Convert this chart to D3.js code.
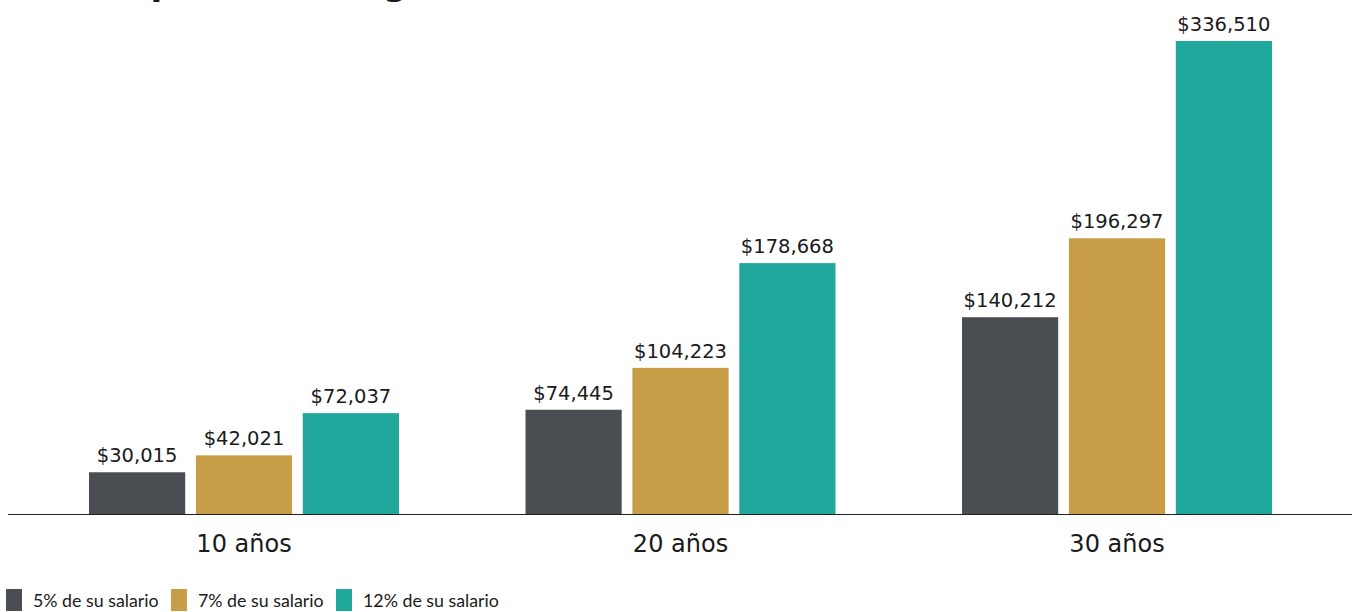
<!DOCTYPE html>
<html>
<head>
<meta charset="utf-8">
<script src="https://cdn.jsdelivr.net/npm/d3@7"></script>
<style>
  body { margin: 0; background: #fff; }
  svg text { font-family: "DejaVu Sans", sans-serif; fill: #1a1a1a; }
</style>
</head>
<body>
<div id="chart"></div>
<script>
// data
var categories = ["10 años", "20 años", "30 años"];
var seriesNames = ["5% de su salario", "7% de su salario", "12% de su salario"];
var seriesColors = ["#4a4e52", "#c89d48", "#21a89d"];
var values5 = [30015, 74445, 140212];
var values7 = [42021, 104223, 196297];
var values12 = [72037, 178668, 336510];

var W = 1354, H = 612;
var margin = {top: 41, right: 2, bottom: 97.5, left: 8};
var width = W - margin.left - margin.right,
    height = H - margin.top - margin.bottom;

var svg = d3.select("#chart").append("svg")
  .attr("width", W).attr("height", H);

// title runs off the top of the picture, only descenders show
svg.append("text")
  .attr("x", 8).attr("y", -5)
  .style("font-size", "34px").style("font-weight", "bold")
  .text("Ahorro potencial según su contribución");

var g = svg.append("g")
  .attr("transform", "translate(" + margin.left + "," + margin.top + ")");

// group centres sit at 244, 680, 1117 px
var x0 = d3.scaleBand()
  .domain(categories)
  .range([17.75, 1327.25])
  .padding(0);

var x1 = d3.scaleBand()
  .domain(seriesNames)
  .range([0, 310])
  .paddingInner(0.1);

var y = d3.scaleLinear()
  .domain([0, 336510])
  .range([height, 0]);

var rows = categories.map(function(c, i) {
  return {cat: c, vals: [values5[i], values7[i], values12[i]]};
});

var groups = g.selectAll(".grp")
  .data(rows)
  .join("g")
  .attr("class", "grp")
  .attr("transform", function(d) {
    return "translate(" + (x0(d.cat) + x0.bandwidth() / 2 - 155) + ",0)";
  });

groups.selectAll("rect")
  .data(function(d) { return d.vals.map(function(v, j) { return {v: v, s: seriesNames[j], j: j}; }); })
  .join("rect")
  .attr("x", function(d) { return x1(d.s); })
  .attr("y", function(d) { return y(d.v); })
  .attr("width", x1.bandwidth())
  .attr("height", function(d) { return height - y(d.v); })
  .attr("fill", function(d) { return seriesColors[d.j]; });

groups.selectAll(".val")
  .data(function(d) { return d.vals.map(function(v, j) { return {v: v, s: seriesNames[j]}; }); })
  .join("text")
  .attr("class", "val")
  .attr("x", function(d) { return x1(d.s) + x1.bandwidth() / 2; })
  .attr("y", function(d) { return y(d.v) - 10; })
  .attr("text-anchor", "middle")
  .style("font-size", "19.5px")
  .text(function(d) { return "$" + d3.format(",")(d.v); });

// x axis
var xAxis = g.append("g")
  .attr("transform", "translate(0," + height + ")")
  .call(d3.axisBottom(x0).tickSize(0).tickPadding(20));
xAxis.select(".domain").attr("stroke", "#222").attr("stroke-width", 1.2).attr("d", "M0,0H1344");
xAxis.selectAll("text")
  .style("font-size", "24px")
  .style("font-family", "'DejaVu Sans', sans-serif")
  .attr("fill", "#1a1a1a");

// legend
var legendX = [6, 171, 336];
var legend = svg.selectAll(".leg")
  .data(seriesNames)
  .join("g")
  .attr("class", "leg")
  .attr("transform", function(d, i) { return "translate(" + legendX[i] + ",589)"; });
legend.append("rect")
  .attr("width", 16).attr("height", 22)
  .attr("fill", function(d, i) { return seriesColors[i]; });
legend.append("text")
  .attr("x", 27).attr("y", 18)
  .style("font-family", "Lato, sans-serif")
  .style("font-size", "17.8px")
  .text(function(d) { return d; });
</script>
</body>
</html>
